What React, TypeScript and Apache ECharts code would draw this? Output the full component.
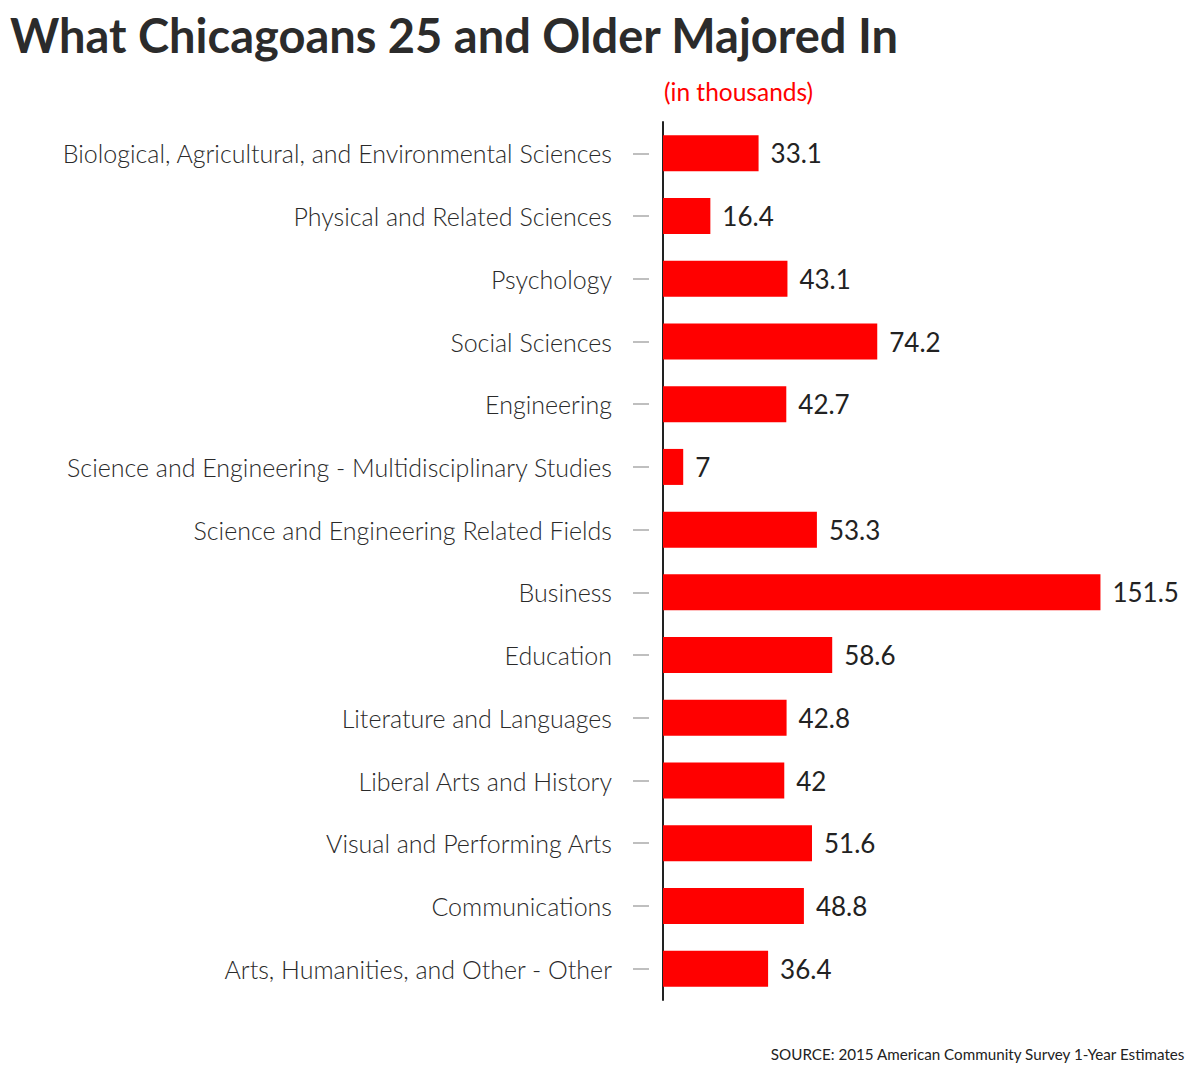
import React, { useEffect, useRef } from "react";
import * as echarts from "echarts";

const categories = [
  "Biological, Agricultural, and Environmental Sciences",
  "Physical and Related Sciences",
  "Psychology",
  "Social Sciences",
  "Engineering",
  "Science and Engineering - Multidisciplinary Studies",
  "Science and Engineering Related Fields",
  "Business",
  "Education",
  "Literature and Languages",
  "Liberal Arts and History",
  "Visual and Performing Arts",
  "Communications",
  "Arts, Humanities, and Other - Other",
];

const values = [33.1, 16.4, 43.1, 74.2, 42.7, 7, 53.3, 151.5, 58.6, 42.8, 42, 51.6, 48.8, 36.4];

const titleText = "What Chicagoans 25 and Older Majored In";
const subtitleText = "(in thousands)";
const sourceText = "SOURCE: 2015 American Community Survey 1-Year Estimates";

export default function App() {
  const ref = useRef<HTMLDivElement>(null);
  useEffect(() => {
    document.body.style.margin = "0";
    if (!ref.current) return;
    const chart = echarts.init(ref.current, null, { renderer: "svg" });
    chart.setOption({
      animation: false,
      backgroundColor: "#ffffff",
      textStyle: { fontFamily: "Lato" },
      title: [
        {
          text: titleText,
          left: 5,
          top: 6,
          textStyle: { fontFamily: "Lato", fontWeight: "bold", fontSize: 47, color: "#2b2b2b" },
        },
        {
          text: subtitleText,
          left: 659,
          top: 74,
          textStyle: { fontFamily: "Lato", fontWeight: "normal", fontSize: 24.5, color: "#ff0000" },
        },
        {
          text: sourceText,
          right: 9,
          top: 1041,
          textStyle: { fontFamily: "Lato", fontWeight: "normal", fontSize: 15.2, color: "#222" },
        },
      ],
      grid: { left: 663, right: 75, top: 122, bottom: 66, containLabel: false },
      xAxis: {
        type: "value",
        min: 0,
        max: 160,
        show: false,
      },
      yAxis: [
        {
          type: "category",
          data: categories,
          inverse: true,
          axisLine: { show: true, lineStyle: { color: "#222", width: 2 } },
          axisTick: { show: false },
          axisLabel: {
            margin: 51,
            fontFamily: "Lato",
            fontWeight: 300,
            fontSize: 25,
            color: "#2a2a2a",
          },
        },
        {
          type: "category",
          data: categories,
          inverse: true,
          position: "left",
          offset: 14,
          axisLine: { show: false },
          axisTick: { show: true, length: 16, alignWithLabel: true, lineStyle: { color: "#aaaaaa", width: 1.5 } },
          axisLabel: { show: false },
        },
      ],
      series: [
        {
          type: "bar",
          yAxisIndex: 0,
          data: values,
          barWidth: 36,
          itemStyle: { color: "#ff0000" },
          label: {
            show: true,
            position: "right",
            distance: 12,
            fontFamily: "Lato",
            fontSize: 26,
            color: "#222",
          },
        },
      ],
    });
    return () => chart.dispose();
  }, []);
  return <div ref={ref} style={{ width: 1200, height: 1066 }} />;
}
